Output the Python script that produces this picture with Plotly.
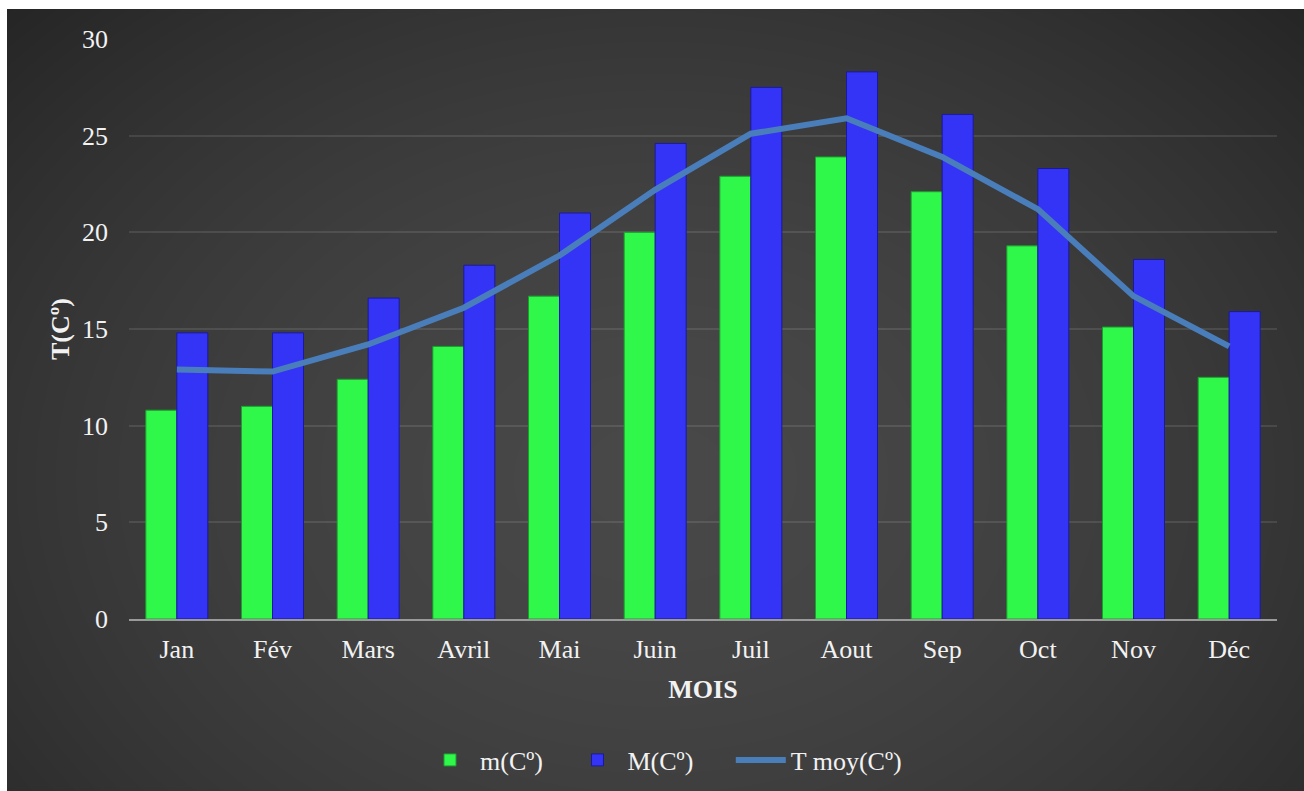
import base64
import struct
import zlib

import numpy as np
import plotly.graph_objects as go

# Monthly temperatures (°C)
months = ["Jan", "Fév", "Mars", "Avril", "Mai", "Juin",
          "Juil", "Aout", "Sep", "Oct", "Nov", "Déc"]
t_min = [10.8, 11.0, 12.4, 14.1, 16.7, 20.0, 22.9, 23.9, 22.1, 19.3, 15.1, 12.5]
t_max = [14.8, 14.8, 16.6, 18.3, 21.0, 24.6, 27.5, 28.3, 26.1, 23.3, 18.6, 15.9]
t_moy = [12.9, 12.8, 14.2, 16.1, 18.8, 22.2, 25.1, 25.9, 23.9, 21.2, 16.7, 14.1]
y_ticks = [0, 5, 10, 15, 20, 25, 30]

W, H = 1304, 791
L, R, T, B = 129, 27, 39, 172
plot_w, plot_h = W - L - R, H - T - B

# dark panel starts at (7, 9); the strip above and left of it stays white
PANEL_X0, PANEL_Y0 = 7, 9

NBSP = "\u00a0"


def _chunk(tag, data):
    return (struct.pack(">I", len(data)) + tag + data
            + struct.pack(">I", zlib.crc32(tag + data) & 0xFFFFFFFF))


def page_background(w, h):
    """Full-page grayscale PNG: white border strip plus a dark radial gradient panel."""
    ys, xs = np.mgrid[0:h, 0:w].astype(float)
    pw, ph = w - PANEL_X0, h - PANEL_Y0
    dx = ((xs - PANEL_X0) / (pw - 1) - 0.5) * 2.0
    dy = ((ys - PANEL_Y0) / (ph - 1) - 0.6) * 2.0 / 1.25
    d = np.clip(np.sqrt(dx ** 2 + dy ** 2) / np.sqrt(2), 0, 1)
    v = 72 - 36 * d ** 1.7
    v[(xs < PANEL_X0) | (ys < PANEL_Y0)] = 255
    arr = np.clip(np.round(v), 0, 255).astype(np.uint8)
    raw = b"".join(b"\x00" + row.tobytes() for row in arr)
    png = (b"\x89PNG\r\n\x1a\n"
           + _chunk(b"IHDR", struct.pack(">IIBBBBB", w, h, 8, 0, 0, 0, 0))
           + _chunk(b"IDAT", zlib.compress(raw, 9))
           + _chunk(b"IEND", b""))
    return "data:image/png;base64," + base64.b64encode(png).decode()


bg_src = page_background(W, H)

font_family = "Liberation Serif, Times New Roman, serif"
text_color = "#f2f2f2"

fig = go.Figure()
fig.add_trace(go.Bar(
    x=months, y=t_min, name="m(Cº)" + NBSP * 3,
    marker=dict(color="#2ff84a", line=dict(color="#1c9e2e", width=1)),
))
fig.add_trace(go.Bar(
    x=months, y=t_max, name="M(Cº)" + NBSP * 5,
    marker=dict(color="#3434f6", line=dict(color="#1a1a9a", width=1)),
))
fig.add_trace(go.Scatter(
    x=months, y=t_moy, name="T moy(Cº)", mode="lines",
    line=dict(color="#4a7ebb", width=6),
))

fig.update_layout(
    width=W, height=H,
    margin=dict(l=L, r=R, t=T, b=B, autoexpand=False),
    paper_bgcolor="#3a3a3a",
    plot_bgcolor="rgba(0,0,0,0)",
    barmode="group", bargap=0.352, bargroupgap=0,
    font=dict(family=font_family, size=26, color=text_color),
    showlegend=True,
    legend=dict(orientation="h", x=(420 - L) / plot_w, xanchor="left",
                y=(T + plot_h - 760) / plot_h, yanchor="middle",
                font=dict(size=26, color=text_color),
                bgcolor="rgba(0,0,0,0)", itemwidth=50,
                traceorder="normal"),
    images=[dict(
        source=bg_src, xref="paper", yref="paper",
        x=-L / plot_w, y=(T + plot_h) / plot_h,
        sizex=W / plot_w, sizey=H / plot_h,
        xanchor="left", yanchor="top", sizing="stretch", layer="below",
    )],
)

fig.update_xaxes(
    showgrid=False, showline=True, linecolor="#9a9a9a", linewidth=2,
    ticks="", ticklabelstandoff=6, automargin=False,
    tickfont=dict(size=26, color=text_color),
    title=dict(text="<b>MOIS</b>", standoff=17,
               font=dict(size=26, color=text_color)),
)
fig.update_yaxes(
    range=[0, 30], tickvals=y_ticks, showgrid=True,
    gridcolor="rgba(255,255,255,0.1)", gridwidth=1.5,
    zeroline=False, showline=False, ticks="", ticklabelstandoff=20,
    automargin=False,
    tickfont=dict(size=26, color=text_color),
    title=dict(text="<b>T(Cº)</b>", standoff=4,
               font=dict(size=26, color=text_color)),
)

fig.write_html("out.html")
